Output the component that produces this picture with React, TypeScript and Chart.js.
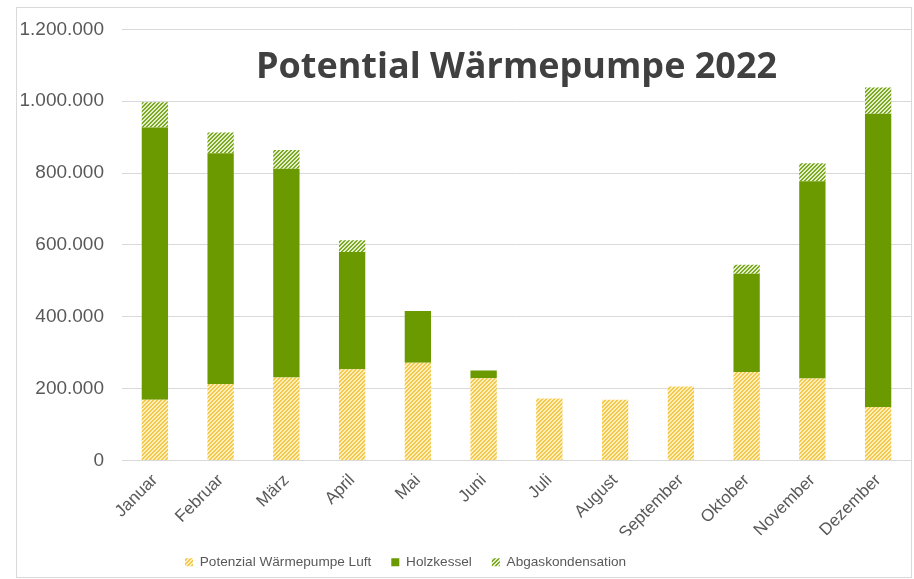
import React, { useEffect, useRef } from "react";
import { Chart, registerables } from "chart.js";

Chart.register(...registerables);

const TITLE = "Potential Wärmepumpe 2022";
const MONTHS = ["Januar", "Februar", "März", "April", "Mai", "Juni", "Juli", "August", "September", "Oktober", "November", "Dezember"];
const LUFT = [169000, 213000, 231000, 254000, 272000, 229000, 172000, 169000, 206000, 246000, 228000, 149000];
const HOLZ = [758000, 642000, 581000, 326000, 144000, 21000, 0, 0, 0, 274000, 549000, 816000];
const ABGAS = [70000, 58000, 52000, 33000, 0, 0, 0, 0, 0, 25000, 50000, 73000];
const SERIES_NAMES = ["Potenzial Wärmepumpe Luft", "Holzkessel", "Abgaskondensation"];
const Y_MAX = 1200000;
const Y_STEP = 200000;

function makeHatch(bg: string, fg: string): CanvasPattern | string {
  const c = document.createElement("canvas");
  c.width = 4;
  c.height = 4;
  const ctx = c.getContext("2d");
  if (!ctx) return bg;
  for (let x = 0; x < 4; x++) {
    for (let y = 0; y < 4; y++) {
      ctx.fillStyle = (x + y) % 4 < 2 ? fg : bg;
      ctx.fillRect(x, y, 1, 1);
    }
  }
  return ctx.createPattern(c, "repeat") || bg;
}

function fmt(v: number): string {
  return String(Math.round(v)).replace(/\B(?=(\d{3})+(?!\d))/g, ".");
}

export default function App() {
  const ref = useRef<HTMLCanvasElement | null>(null);

  useEffect(() => {
    if (!ref.current) return;
    const yellowHatch = makeHatch("#FFEFB8", "#F4C84E");
    const greenHatch = makeHatch("#E4EFCB", "#7CA824");

    const framePlugin = {
      id: "frame",
      beforeDraw(chart: any) {
        const ctx = chart.ctx;
        ctx.save();
        ctx.fillStyle = "#ffffff";
        ctx.fillRect(0, 0, chart.width, chart.height);
        ctx.strokeStyle = "#d9d9d9";
        ctx.lineWidth = 1;
        ctx.strokeRect(16.5, 7.5, 895, 570);
        ctx.restore();
      },
      afterLayout(chart: any) {
        const lg = chart.legend;
        if (lg) {
          lg.left -= 50;
          lg.right -= 50;
        }
      },
      afterDraw(chart: any) {
        const ctx = chart.ctx;
        const a = chart.chartArea;
        ctx.save();
        ctx.font = "bold 36px 'Open Sans'";
        ctx.fillStyle = "#404040";
        ctx.textAlign = "center";
        ctx.textBaseline = "middle";
        ctx.fillText(TITLE, (a.left + a.right) / 2, a.top + 38);
        ctx.restore();
      },
    };

    const chart = new Chart(ref.current, {
      type: "bar",
      data: {
        labels: MONTHS,
        datasets: [
          { label: SERIES_NAMES[0], data: LUFT, backgroundColor: yellowHatch as any, borderWidth: 0 },
          { label: SERIES_NAMES[1], data: HOLZ, backgroundColor: "#6A9A00", borderWidth: 0 },
          { label: SERIES_NAMES[2], data: ABGAS, backgroundColor: greenHatch as any, borderWidth: 0 },
        ],
      },
      options: {
        responsive: false,
        animation: false,
        devicePixelRatio: 1,
        layout: { padding: { top: 29, right: 3, left: 0, bottom: 0 } },
        datasets: { bar: { categoryPercentage: 1, barPercentage: 0.4 } },
        scales: {
          x: {
            stacked: true,
            grid: { display: false },
            border: { display: true, color: "#d9d9d9" },
            ticks: {
              color: "#595959",
              font: { family: "'Liberation Sans', Arial, sans-serif", size: 17 },
              minRotation: 45,
              maxRotation: 45,
              padding: 2,
            },
            afterFit(scale: any) {
              scale.height = 75;
            },
          },
          y: {
            stacked: true,
            min: 0,
            max: Y_MAX,
            grid: { color: "#d9d9d9", drawTicks: false },
            border: { display: false },
            ticks: {
              stepSize: Y_STEP,
              color: "#595959",
              font: { family: "'Liberation Sans', Arial, sans-serif", size: 19 },
              padding: 18,
              callback: (v: any) => fmt(Number(v)),
            },
            afterFit(scale: any) {
              scale.width = 122;
            },
          },
        },
        plugins: {
          title: { display: false },
          tooltip: { enabled: false },
          legend: {
            position: "bottom",
            labels: {
              color: "#595959",
              font: { family: "'Liberation Sans', Arial, sans-serif", size: 13.6 },
              boxWidth: 8,
              boxHeight: 8,
              padding: 20,
            },
          },
        },
      },
      plugins: [framePlugin],
    });
    return () => chart.destroy();
  }, []);

  return (
    <div style={{ position: "absolute", left: 0, top: 0, width: 914, height: 579 }}>
      <canvas ref={ref} width={914} height={579} style={{ width: 914, height: 579, display: "block" }} />
    </div>
  );
}
